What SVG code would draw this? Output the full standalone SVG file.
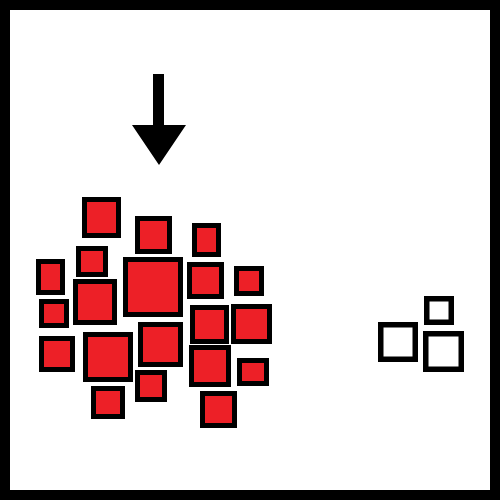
<svg xmlns="http://www.w3.org/2000/svg" width="500" height="500" viewBox="0 0 500 500">
<style>
.r{fill:#ed2027;stroke:#000;stroke-width:5}
.w{fill:#fff;stroke:#000;stroke-width:5.5}
</style>
<rect x="0" y="0" width="500" height="500" fill="#fff"/>
<rect x="5" y="5" width="490" height="490" fill="none" stroke="#000" stroke-width="10"/>
<g id="arrow"><polygon points="153,74 164,74 164,125 186,125 159,165 132,125 153,125" fill="#000"/></g>
<g id="cluster">
<rect class="r" x="84.5" y="199.5" width="34" height="36"/>
<rect class="r" x="78.5" y="248.5" width="27" height="26"/>
<rect class="r" x="38.5" y="261.5" width="24" height="31"/>
<rect class="r" x="75.5" y="281.5" width="39" height="41"/>
<rect class="r" x="41.5" y="301.5" width="25" height="24"/>
<rect class="r" x="41.5" y="338.5" width="31" height="31"/>
<rect class="r" x="85.5" y="334.5" width="45" height="45"/>
<rect class="r" x="140.5" y="324.5" width="40" height="40"/>
<rect class="r" x="137.5" y="372.5" width="27" height="27"/>
<rect class="r" x="93.5" y="388.5" width="29" height="28"/>
<rect class="r" x="137.5" y="218.5" width="32" height="33"/>
<rect class="r" x="194.5" y="225.5" width="24" height="29"/>
<rect class="r" x="125.5" y="259.5" width="55" height="55"/>
<rect class="r" x="189.5" y="264.5" width="32" height="32"/>
<rect class="r" x="236.5" y="268.5" width="25" height="25"/>
<rect class="r" x="192.5" y="307.5" width="34" height="34"/>
<rect class="r" x="233.5" y="306.5" width="36" height="35"/>
<rect class="r" x="191.5" y="347.5" width="37" height="37"/>
<rect class="r" x="239.5" y="360.5" width="27" height="23"/>
<rect class="r" x="202.5" y="393.5" width="32" height="32"/>
</g>
<g id="small">
<rect class="w" x="426.75" y="298.75" width="24.5" height="23.5"/>
<rect class="w" x="380.75" y="324.75" width="34.5" height="34.5"/>
<rect class="w" x="425.75" y="333.75" width="35.5" height="35.5"/>
</g>
</svg>
